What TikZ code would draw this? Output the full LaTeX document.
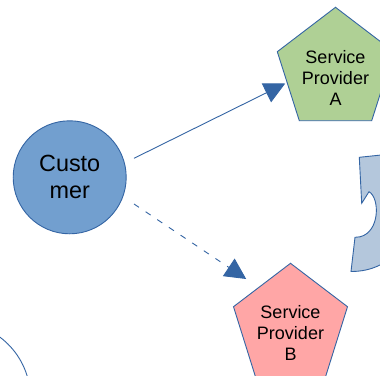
\documentclass[tikz,border=0pt]{standalone}
\usepackage{fontspec}
\setmainfont{Liberation Sans}
\usetikzlibrary{arrows.meta}
\definecolor{edgeblue}{HTML}{3465A4}
\definecolor{custfill}{HTML}{729FCF}
\definecolor{greenfill}{HTML}{AFD095}
\definecolor{redfill}{HTML}{FFA6A6}
\definecolor{shapefill}{HTML}{B4C7DC}
\begin{document}
\begin{tikzpicture}[x=1pt,y=-1pt,
  outline/.style={draw=edgeblue, line width=0.9pt, line join=miter},
  ptext/.style={font=\fontsize{18}{21}\selectfont, align=center, inner sep=0pt, text=black},
  conn/.style={draw=edgeblue, line width=0.9pt},
  tip/.style={-{Triangle[length=21pt,width=21pt,fill=edgeblue]}}
]
\useasboundingbox (0,0) rectangle (380,375);
\clip (0,0) rectangle (380,375);
\fill[white] (0,0) rectangle (380,375);

% bottom-left circle outline
\draw[outline] (-45.6,398) circle[radius=76pt];

% right partial shape
\filldraw[outline, fill=shapefill]
  (359.3,157.3) -- (386,154.5) -- (386,262)
  -- (380,265) .. controls (370,270) and (360,271.5) .. (351,271.5)
  -- (355,237.3) -- (360,236.8)
  .. controls (380,232) and (380,198) .. (369,191.7)
  -- (361.7,203.3) -- cycle;

% customer
\node[outline, fill=custfill, circle, minimum size=113pt, inner sep=0pt,
      font=\fontsize{23.4}{27}\selectfont, align=center] (cust) at (69.7,177.3) {Custo\\mer};

% provider A
\filldraw[outline, fill=greenfill] (335.5,7.3) -- (277.3,51.7) -- (299.3,120.7)
  -- (371.7,120.7) -- (393.7,51.7) -- cycle;
\node[ptext] (pa) at (335.5,78) {Service\\Provider\\A};

% provider B
\filldraw[outline, fill=redfill] (290.5,263.3) -- (233.5,306.7) -- (255.7,377.5)
  -- (325.3,377.5) -- (347.5,306.7) -- cycle;
\node[ptext] (pb) at (290.5,333.3) {Service\\Provider\\B};

% connectors
\coordinate (a1) at (134,158.3);
\coordinate (a2) at (285.2,83.5);
\coordinate (b1) at (134,204);
\coordinate (b2) at (246.2,279);
\draw[conn, tip] (a1) -- (a2);
\draw[conn, tip, dash pattern=on 6pt off 8pt] (b1) -- (b2);
\end{tikzpicture}
\end{document}
